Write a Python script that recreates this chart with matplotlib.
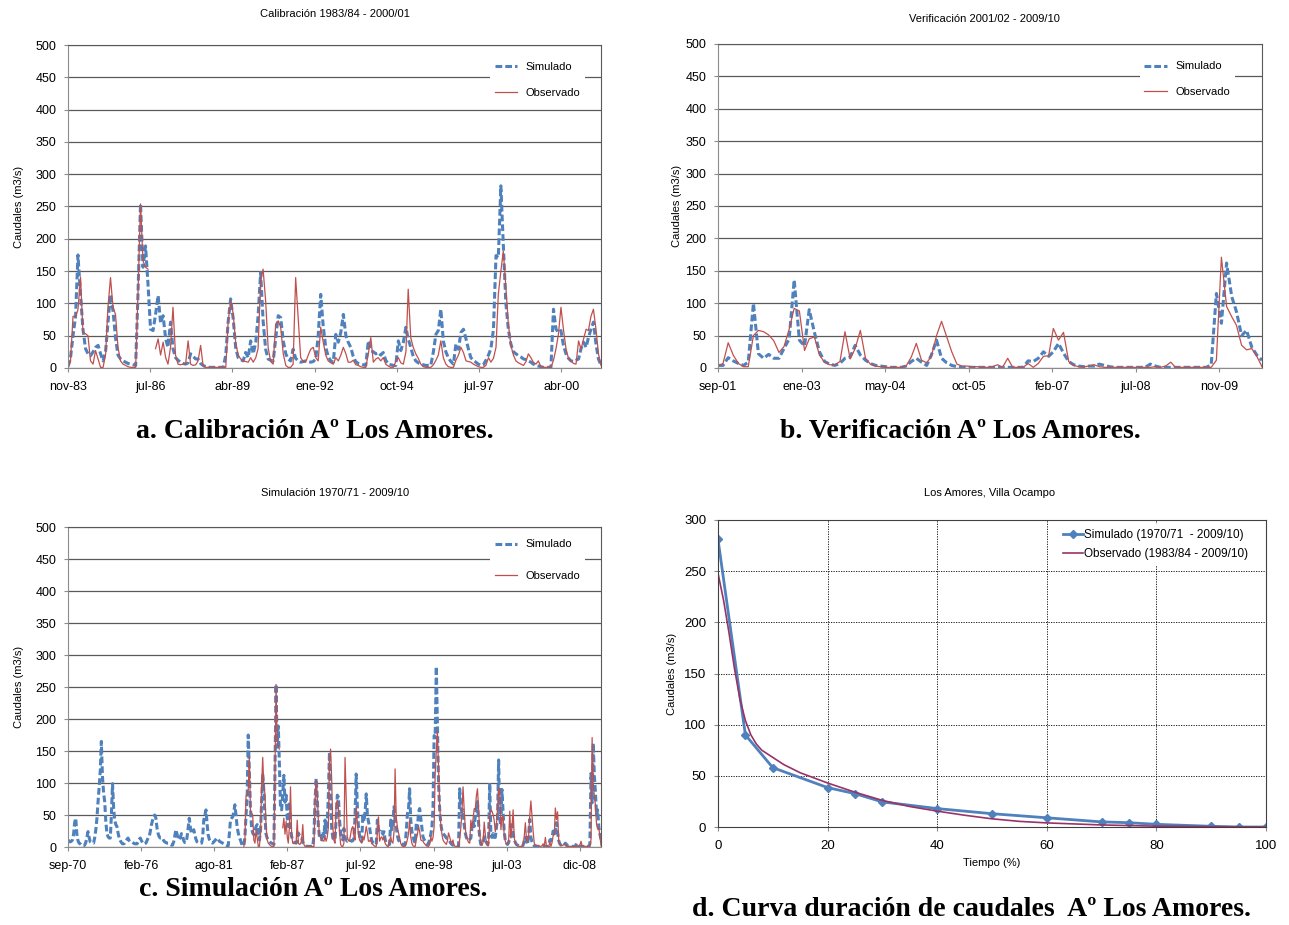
import numpy as np
import pandas as pd
import matplotlib
matplotlib.use('Agg')
import matplotlib.pyplot as plt

plt.rcParams['font.family'] = ['Liberation Sans', 'DejaVu Sans']

# caudales mensuales (m3/s) leidos del grafico
# calibracion: nov-83 .. ago-01
cal_sim = [2, 15, 50, 80, 175, 114, 60, 30, 22, 19, 25, 32,
           35, 22, 11, 27, 70, 114, 89, 47, 20, 14, 11, 9,
           7, 6, 5, 4, 114, 254, 156, 189, 130, 60, 58, 83,
           112, 70, 81, 45, 32, 71, 30, 16, 12, 9, 7, 6,
           8, 22, 18, 14, 14, 7, 4, 2, 1, 1, 1, 1,
           1, 1, 1, 20, 70, 107, 78, 32, 16, 13, 11, 24,
           16, 42, 22, 40, 80, 148, 73, 29, 14, 12, 11, 45,
           81, 78, 42, 22, 14, 11, 29, 15, 11, 9, 10, 11,
           10, 9, 10, 14, 50, 114, 65, 32, 18, 11, 9, 52,
           40, 55, 83, 50, 40, 32, 18, 10, 7, 6, 5, 4,
           42, 27, 25, 22, 24, 20, 24, 12, 6, 5, 4, 4,
           42, 27, 40, 63, 45, 32, 18, 11, 8, 6, 5, 4,
           4, 4, 25, 52, 58, 91, 42, 25, 16, 10, 6, 37,
           29, 55, 60, 45, 30, 16, 12, 9, 6, 4, 5, 12,
           20, 30, 60, 174, 171, 282, 190, 100, 60, 37, 25, 22,
           19, 17, 14, 13, 11, 9, 6, 4, 3, 2, 1, 1,
           1, 1, 91, 60, 55, 58, 35, 22, 15, 11, 10, 12,
           14, 30, 40, 32, 47, 60, 71, 37, 14, 4]
cal_obs = [1, 10, 80, 80, 90, 141, 55, 53, 50, 11, 6, 27,
           14, 1, 1, 22, 94, 140, 94, 83, 32, 11, 6, 4,
           2, 1, 1, 1, 114, 254, 166, 156, 153, np.nan, np.nan, 30,
           45, 20, 40, 16, 6, 32, 94, 20, 6, 5, 6, 6,
           42, 6, 4, 5, 11, 35, 4, 1, 1, 1, 1, 1,
           1, 1, 1, 1, 70, 104, 85, 40, 20, 14, 11, 10,
           9, 16, 9, 16, 30, 135, 153, 104, 32, 10, 6, 68,
           73, 63, 22, 4, 1, 1, 6, 140, 78, 16, 10, 9,
           20, 29, 32, 16, 11, 63, 40, 20, 11, 8, 6, 16,
           11, 20, 32, 22, 9, 9, 12, 5, 4, 2, 1, 1,
           22, 47, 9, 14, 16, 11, 16, 6, 3, 1, 1, 10,
           16, 8, 6, 25, 122, 47, 32, 22, 15, 6, 2, 1,
           1, 1, 5, 12, 20, 42, 16, 6, 2, 1, 1, 12,
           20, 32, 24, 11, 10, 9, 6, 4, 2, 1, 1, 4,
           16, 9, 15, 32, 114, 150, 181, 125, 68, 35, 20, 11,
           8, 6, 4, 10, 22, 16, 9, 6, 11, 2, 1, 1,
           1, 1, 12, 30, 52, 94, 60, 30, 15, 11, 7, 6,
           42, 29, 45, 60, 58, 80, 91, 60, 22, 4]

# verificacion: sep-01 .. ago-10
ver_sim = [4, 4, 16, 11, 7, 4, 9, 100, 22, 15, 21, 15,
           15, 30, 45, 136, 43, 34, 90, 55, 25, 10, 6, 4,
           7, 15, 17, 35, 20, 12, 7, 4, 3, 2, 1, 1,
           1, 3, 10, 15, 9, 4, 20, 43, 15, 8, 4, 2,
           1, 1, 1, 1, 1, 1, 1, 1, 1, 1, 1, 1,
           1, 11, 10, 15, 25, 18, 25, 38, 23, 10, 5, 3,
           2, 3, 3, 6, 4, 2, 1, 1, 1, 1, 1, 1,
           1, 6, 3, 1, 1, 1, 1, 1, 1, 1, 1, 1,
           1, 5, 115, 69, 162, 110, 87, 50, 58, 32, 20, 12]
ver_obs = [3, 7, 39, 20, 7, 2, 2, 50, 58, 56, 51, 42,
           24, 33, 60, 92, 88, 27, 45, 48, 20, 9, 5, 5,
           10, 56, 14, 30, 58, 15, 6, 3, 2, 1, 1, 1,
           1, 3, 17, 38, 12, 8, 18, 50, 72, 48, 25, 6,
           3, 3, 2, 2, 1, 1, 2, 5, 1, 15, 1, 1,
           1, 7, 1, 7, 18, 19, 61, 43, 55, 10, 4, 2,
           2, 3, 5, 2, 1, 1, 1, 1, 1, 1, 1, 1,
           1, 1, 2, 1, 3, 9, 1, 1, 1, 1, 1, 1,
           1, 1, 12, 171, 95, 79, 66, 35, 28, 30, 18, 2]

# simulacion sin observados: sep-70 .. oct-83
sim_70_83 = [11, 9, 8, 9, 11, 20, 38, 45, 20, 10, 6, 5,
             3, 2, 2, 3, 7, 15, 24, 15, 8, 7, 6, 6,
             15, 27, 45, 71, 94, 120, 165, 110, 85, 71, 40, 21,
             16, 14, 14, 50, 99, 60, 42, 35, 32, 22, 14, 10,
             7, 5, 5, 6, 9, 12, 14, 10, 8, 8, 7, 6,
             5, 5, 5, 8, 12, 14, 10, 7, 5, 5, 6, 10,
             14, 16, 25, 35, 42, 48, 50, 45, 30, 21, 16, 14,
             14, 14, 10, 8, 7, 6, 6, 5, 4, 3, 3, 8,
             18, 27, 20, 14, 11, 15, 21, 18, 10, 7, 7, 15,
             30, 45, 30, 21, 22, 27, 20, 12, 8, 7, 6, 6,
             6, 15, 42, 50, 58, 35, 19, 12, 9, 7, 6, 8,
             10, 12, 14, 12, 9, 8, 7, 6, 5, 4, 3, 2,
             2, 20, 42, 45, 47, 55, 66, 50, 32, 22, 15, 11, 5, 2]

# curva de duracion
dur_sim_x = [0, 5, 10, 20, 25, 30, 40, 50, 60, 70, 75, 80, 90, 95, 100]
dur_sim_y = [281, 90, 58, 38.5, 32.6, 24.5, 18, 13, 9, 5, 4.2, 2.6, 0.7, 0, 0]
dur_obs_x = [0, 1, 2, 3, 4, 5, 6, 7, 8, 10, 12, 15, 18, 20, 25, 30, 35, 40,
             45, 50, 55, 60, 65, 70, 80, 90, 100]
dur_obs_y = [248, 222, 190, 155, 125, 104, 90, 81, 75, 68, 61, 53, 47, 43, 34,
             26, 20, 15.5, 11.5, 8, 5.5, 4, 3, 2, 0.8, 0.3, 0]

meses = ['ene', 'feb', 'mar', 'abr', 'may', 'jun', 'jul', 'ago', 'sep', 'oct', 'nov', 'dic']

AZUL = '#4F81BD'
ROJO = '#C0504D'
W, H = 1289, 925


def etiquetas(inicio, fin, paso):
    t = pd.Timestamp(inicio)
    pos, lab = [], []
    while t <= pd.Timestamp(fin):
        pos.append(t)
        lab.append(f"{meses[t.month - 1]}-{t.year % 100:02d}")
        t += pd.Timedelta(days=paso)
    return pos, lab


def plot_serie(ax, f_sim, sim, f_obs, obs, paso, leg_pos, leg_sp, ylab_x):
    ax.plot(f_sim, sim, color=AZUL, lw=2.2, ls=(0, (2.2, 1.0)), label='Simulado')
    ax.plot(f_obs, obs, color=ROJO, lw=0.9, label='Observado')
    ax.set_xlim(f_sim[0], f_sim[-1])
    ax.set_ylim(0, 500)
    ax.set_yticks(range(0, 501, 50))
    pos, lab = etiquetas(f_sim[0], f_sim[-1], paso)
    ax.set_xticks(pos)
    ax.set_xticklabels(lab)
    ax.tick_params(labelsize=9, length=3, color='#8c8c8c', direction='out')
    ax.tick_params(axis='x', pad=6.5)
    ax.tick_params(axis='y', pad=5.5)
    ax.yaxis.grid(True, color='#595959', lw=0.9)
    ax.set_axisbelow(True)
    for s in ['left', 'bottom']:
        ax.spines[s].set_color('#8c8c8c')
    for s in ['top', 'right']:
        ax.spines[s].set_color('#595959')
    ax.set_ylabel('Caudales (m3/s)', fontsize=8)
    ax.yaxis.set_label_coords(ylab_x, 0.5)
    ax.legend(loc='upper right', bbox_to_anchor=leg_pos, fontsize=8,
              handlelength=2.0, labelspacing=leg_sp, borderaxespad=0,
              frameon=True, fancybox=False, edgecolor='none',
              facecolor='white', framealpha=1)


fig = plt.figure(figsize=(W / 100, H / 100), dpi=100)
ax_a = fig.add_axes([68 / W, 1 - 368 / H, 533 / W, 323 / H])
ax_b = fig.add_axes([718 / W, 1 - 368 / H, 544 / W, 324 / H])
ax_c = fig.add_axes([68 / W, 1 - 847 / H, 533 / W, 320 / H])
ax_d = fig.add_axes([718 / W, 1 - 827 / H, 548 / W, 307 / H])

f_cal = pd.date_range('1983-11-01', periods=len(cal_sim), freq='MS')
f_ver = pd.date_range('2001-09-01', periods=len(ver_sim), freq='MS')
f_tot = pd.date_range('1970-09-01', periods=len(sim_70_83) + len(cal_sim) + len(ver_sim), freq='MS')
f_obs = pd.date_range('1983-11-01', periods=len(cal_obs) + len(ver_obs), freq='MS')

plot_serie(ax_a, f_cal, cal_sim, f_cal, cal_obs, 1000, (0.97, 0.96), 1.4, -0.083)
plot_serie(ax_b, f_ver, ver_sim, f_ver, ver_obs, 500, (0.95, 0.96), 1.4, -0.066)
plot_serie(ax_c, f_tot, sim_70_83 + cal_sim + ver_sim, f_obs, cal_obs + ver_obs, 2000,
           (0.97, 0.975), 1.9, -0.083)

# curva de duracion de caudales
ax_d.plot(dur_sim_x, dur_sim_y, color=AZUL, lw=2, marker='D', ms=4.5,
          label='Simulado (1970/71  - 2009/10)')
ax_d.plot(dur_obs_x, dur_obs_y, color='#993366', lw=1.2,
          label='Observado (1983/84 - 2009/10)')
ax_d.set_xlim(0, 100)
ax_d.set_ylim(0, 300)
ax_d.set_xticks(range(0, 101, 20))
ax_d.set_yticks(range(0, 301, 50))
ax_d.grid(True, color='k', ls=(0, (1.5, 1.5)), lw=0.6)
ax_d.set_axisbelow(True)
ax_d.tick_params(labelsize=9.5, length=3, color='#8c8c8c')
ax_d.tick_params(axis='x', pad=6.5)
ax_d.tick_params(axis='y', pad=5.5)
for s in ax_d.spines.values():
    s.set_color('#404040')
ax_d.set_xlabel('Tiempo (%)', fontsize=8)
ax_d.set_ylabel('Caudales (m3/s)', fontsize=8)
ax_d.yaxis.set_label_coords(-0.074, 0.5)
ax_d.legend(loc='upper right', bbox_to_anchor=(0.976, 0.987), fontsize=8.5,
            handlelength=1.7, handletextpad=0.1, labelspacing=0.6,
            borderaxespad=0, frameon=True, fancybox=False, edgecolor='none',
            facecolor='white', framealpha=1)

# titulos de los graficos
tit = dict(fontsize=8, ha='center', va='center')
fig.text(335 / W, 1 - 14 / H, 'Calibración 1983/84 - 2000/01', **tit)
fig.text(984 / W, 1 - 19 / H, 'Verificación 2001/02 - 2009/10', **tit)
fig.text(335 / W, 1 - 493 / H, 'Simulación 1970/71 - 2009/10', **tit)
fig.text(990 / W, 1 - 493 / H, 'Los Amores, Villa Ocampo', **tit)

# leyendas de las figuras
cap = dict(family=['Liberation Serif', 'DejaVu Serif'], fontweight='bold',
           fontsize=20, ha='center', va='center')
fig.text(315 / W, 1 - 432 / H, 'a. Calibración Aº Los Amores.', **cap)
fig.text(960 / W, 1 - 432 / H, 'b. Verificación Aº Los Amores.', **cap)
fig.text(313 / W, 1 - 889 / H, 'c. Simulación Aº Los Amores.', **cap)
fig.text(972 / W, 1 - 910 / H, 'd. Curva duración de caudales  Aº Los Amores.', **cap)

fig.savefig('out.png', dpi=100)
